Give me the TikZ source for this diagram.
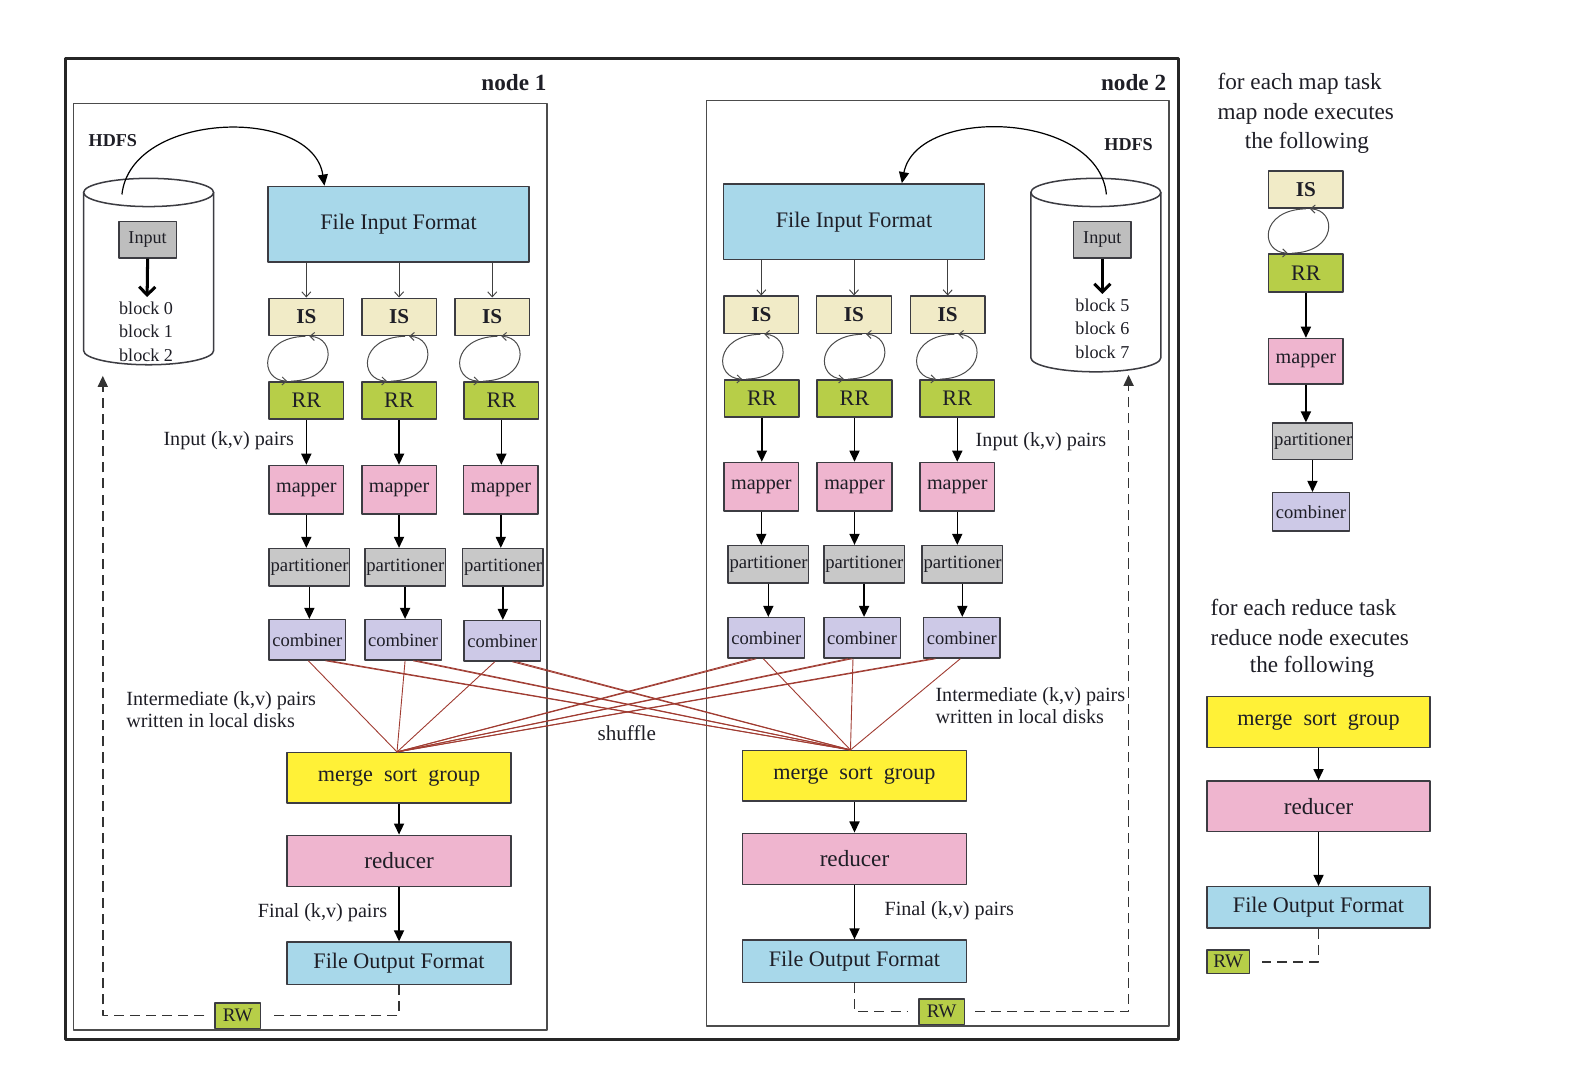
\documentclass[tikz,border=0pt]{standalone}
\usepackage{fontspec}
\setmainfont{Liberation Serif}
\usetikzlibrary{arrows.meta,calc}

\definecolor{txt}{RGB}{30,30,38}
\definecolor{boxline}{RGB}{60,60,66}
\definecolor{fifblue}{RGB}{168,216,234}
\definecolor{isfill}{RGB}{241,235,199}
\definecolor{rrfill}{RGB}{183,206,72}
\definecolor{mapfill}{RGB}{239,181,207}
\definecolor{parfill}{RGB}{200,200,200}
\definecolor{comfill}{RGB}{205,201,231}
\definecolor{mrgfill}{RGB}{255,241,55}
\definecolor{infill}{RGB}{190,190,190}
\definecolor{shufc}{RGB}{160,60,50}

\newcommand\fsz[1]{\fontsize{#1}{#1}\selectfont}

\begin{document}
\begin{tikzpicture}[x=0.5pt,y=-0.5pt,line join=round,
  every node/.style={text=txt},
  box/.style={draw=boxline,line width=0.75pt,inner sep=0pt},
  fifbox/.style={box,fill=fifblue,minimum width=129.5pt,minimum height=37.5pt,font=\fsz{11}},
  isbox/.style={box,fill=isfill,minimum width=37pt,minimum height=18.5pt,font=\bfseries\fsz{10.5}},
  rrbox/.style={box,fill=rrfill,minimum width=37pt,minimum height=18.5pt,font=\fsz{11}},
  mapbox/.style={box,fill=mapfill,minimum width=37pt,minimum height=24pt,font=\fsz{10}},
  partbox/.style={box,fill=parfill,minimum width=40pt,minimum height=18.5pt,font=\fsz{9.3}},
  combbox/.style={box,fill=comfill,minimum width=38pt,minimum height=20pt,font=\fsz{9.2}},
  mrgbox/.style={box,fill=mrgfill,minimum width=111pt,minimum height=25pt,font=\fsz{11}},
  redbox/.style={box,fill=mapfill,minimum width=111pt,minimum height=25.5pt,font=\fsz{11.5}},
  fofbox/.style={box,fill=fifblue,minimum width=111pt,minimum height=21pt,font=\fsz{11}},
  rwbox/.style={box,fill=rrfill,minimum width=22.5pt,minimum height=12.5pt,font=\fsz{9.5}},
  inbox/.style={box,fill=infill,minimum width=28.5pt,minimum height=18pt,font=\fsz{9}},
  lbl/.style={font=\fsz{10},inner sep=0pt},
  flow/.style={draw=black,line width=0.75pt,-{Triangle[length=5.5pt,width=5pt]}},
  feed/.style={draw=black!75,line width=0.45pt,-{Straight Barb[length=2.5pt,width=4.5pt]}},
  spin/.style={draw=black!70,line width=0.5pt,-{Straight Barb[length=2.2pt,width=4pt]}},
  shuf/.style={draw=shufc,line width=0.45pt},
  rwdash/.style={draw=black!80,line width=0.75pt,dash pattern=on 5pt off 3pt},
  fetch/.style={draw=black,line width=0.6pt,-{Triangle[length=5.5pt,width=5pt]}},
  split/.style={draw=black,line width=1.5pt,-{Straight Barb[length=4pt,width=8pt]}},
  cyl/.style={draw=boxline,line width=0.75pt,fill=white}
]
\useasboundingbox (0,0) rectangle (1568,1068);

% two-way cycle between an input split and its record reader
\newcommand\spinloop[3]{%
  \path (#1.south) ++(#3,0) coordinate (lt);
  \path (#2.north -| lt) coordinate (lb);
  \draw[spin] ($(lt)+(8,0)$) .. controls ($(lt)+(-38,1)$) and ($(lb)+(-38,-1)$) .. ($(lb)+(-10,0)$);
  \draw[spin] ($(lb)+(-6,0)$) .. controls ($(lb)+(39,-1)$) and ($(lt)+(39,1)$) .. ($(lt)+(12,0)$);
}

% cluster frame and the two machines
\draw[line width=1.5pt,draw=black!85] (65,58) rectangle (1170,1032);
\draw[draw=black!70,line width=0.7pt] (73,103) rectangle (543,1022);
\draw[draw=black!70,line width=0.7pt] (701,100) rectangle (1160,1018);
\node[font=\bfseries\fsz{11.5}] (n1) at (510,82) {node 1};
\node[font=\bfseries\fsz{11.5}] (n2) at (1125,82) {node 2};

% ---------------- node 1 ----------------
\node[font=\bfseries\fsz{9}] (hdfs1) at (112,140) {HDFS};
\draw[cyl] (83,191) -- (83,348) arc[start angle=180,end angle=0,x radius=64.5,y radius=14] -- (212,191);
\draw[cyl] (147.5,191) ellipse[x radius=64.5,y radius=14];
\coordinate (cyl1top) at (121,193);
\coordinate (cyl1base) at (102,373);
\node[inbox] (in1) at (146.5,238) {Input};
\node[align=center,font=\fontsize{9}{11.75}\selectfont,inner sep=0pt] (blk1) at (145,329) {block 0\\block 1\\block 2};
\draw[split] (in1.south) -- ($(blk1.north)+(1,-4)$);

\node[fifbox] (fif1) at (395.5,222.5) {File Input Format};
\draw[fetch] (cyl1top) .. controls (130,110) and (310,105) .. (fif1.north -| 322,0);

\node[isbox] (is11) at (304,314.5) {IS};
\node[isbox] (is12) at (396,314.5) {IS};
\node[isbox] (is13) at (488.5,314.5) {IS};
\node[rrbox] (rr11) at (304,397.5) {RR};
\node[rrbox] (rr12) at (396,397.5) {RR};
\node[rrbox] (rr13) at (497.5,397.5) {RR};
\node[mapbox] (map11) at (304,486) {mapper};
\node[mapbox] (map12) at (396,486) {mapper};
\node[mapbox] (map13) at (497,486) {mapper};
\node[partbox] (par11) at (307,563) {\makebox[38.5pt][l]{partitioner}};
\node[partbox] (par12) at (402,563) {\makebox[38.5pt][l]{partitioner}};
\node[partbox] (par13) at (499,563) {\makebox[38.5pt][l]{partitioner}};
\node[combbox] (com11) at (305,635) {combiner};
\node[combbox] (com12) at (400,635) {combiner};
\node[combbox] (com13) at (498.5,636) {combiner};

\foreach \i in {11,12,13}{
  \draw[feed] (is\i.north |- fif1.south) -- (is\i.north);
}
\spinloop{is11}{rr11}{-9}
\spinloop{is12}{rr12}{-2}
\spinloop{is13}{rr13}{-3}
\foreach \i in {11,12,13}{
  \draw[flow] (rr\i.south) -- (rr\i.south |- map\i.north);
  \draw[flow] (map\i.south) -- (map\i.south |- par\i.north);
  \draw[flow] (par\i.south) -- (par\i.south |- com\i.north);
}
\node[lbl] (kv1) at (227,437) {Input (k,v) pairs};

\node[mrgbox] (mrg1) at (396,772) {merge\ \ sort\ \ group};
\node[redbox] (red1) at (396,854.5) {reducer};
\node[fofbox] (fof1) at (396,956) {File Output Format};
\draw[flow] (mrg1) -- (red1);
\draw[flow] (red1) -- (fof1);
\node[lbl] (fin1) at (320,906) {Final (k,v) pairs};
\node[lbl,anchor=west,align=left,font=\fontsize{10}{11}\selectfont] (mid1) at (125,704) {Intermediate (k,v) pairs\\written in local disks};

% ---------------- node 2 ----------------
\node[font=\bfseries\fsz{9}] (hdfs2) at (1120,143) {HDFS};
\draw[cyl] (1023,191) -- (1023,355) arc[start angle=180,end angle=0,x radius=64.5,y radius=14] -- (1152,191);
\draw[cyl] (1087.5,191) ellipse[x radius=64.5,y radius=14];
\coordinate (cyl2top) at (1098,193);
\coordinate (cyl2base) at (1120,372);
\node[inbox] (in2) at (1094,238) {Input};
\node[align=center,font=\fontsize{9}{11.75}\selectfont,inner sep=0pt] (blk2) at (1094,326) {block 5\\block 6\\block 7};
\draw[split] (in2.south) -- ($(blk2.north)+(0,-4)$);

\node[fifbox] (fif2) at (847.5,220) {File Input Format};
\draw[fetch] (cyl2top) .. controls (1090,110) and (910,105) .. (fif2.north -| 895,0);

\node[isbox] (is21) at (755.5,312.5) {IS};
\node[isbox] (is22) at (847.5,312.5) {IS};
\node[isbox] (is23) at (940.5,312.5) {IS};
\node[rrbox] (rr21) at (756,395.5) {RR};
\node[rrbox] (rr22) at (848,395.5) {RR};
\node[rrbox] (rr23) at (950,395.5) {RR};
\node[mapbox] (map21) at (755.5,483) {mapper};
\node[mapbox] (map22) at (848,483) {mapper};
\node[mapbox] (map23) at (950,483) {mapper};
\node[partbox] (par21) at (762.5,560) {\makebox[38.5pt][l]{partitioner}};
\node[partbox] (par22) at (857.5,560) {\makebox[38.5pt][l]{partitioner}};
\node[partbox] (par23) at (955,560) {\makebox[38.5pt][l]{partitioner}};
\node[combbox] (com21) at (760.5,633) {combiner};
\node[combbox] (com22) at (855.5,633) {combiner};
\node[combbox] (com23) at (954.5,633) {combiner};

\foreach \i in {21,22,23}{
  \draw[feed] (is\i.north |- fif2.south) -- (is\i.north);
}
\spinloop{is21}{rr21}{-9}
\spinloop{is22}{rr22}{0}
\spinloop{is23}{rr23}{-1.5}
\foreach \i in {21,22,23}{
  \draw[flow] (rr\i.south) -- (rr\i.south |- map\i.north);
  \draw[flow] (map\i.south) -- (map\i.south |- par\i.north);
  \draw[flow] (par\i.south) -- (par\i.south |- com\i.north);
}
\node[lbl] (kv2) at (1033,438) {Input (k,v) pairs};

\node[mrgbox] (mrg2) at (848,770) {merge\ \ sort\ \ group};
\node[redbox] (red2) at (848,852.5) {reducer};
\node[fofbox] (fof2) at (848,954) {File Output Format};
\draw[flow] (mrg2) -- (red2);
\draw[flow] (red2) -- (fof2);
\node[lbl] (fin2) at (942,904) {Final (k,v) pairs};
\node[lbl,anchor=west,align=left,font=\fontsize{10}{11}\selectfont] (mid2) at (928,700) {Intermediate (k,v) pairs\\written in local disks};

% ---------------- shuffle ----------------
\coordinate (in1m) at ($(mrg1.north)+(-2,0)$);
\coordinate (in2m) at ($(mrg2.north)+(-4,0)$);
% local partitions
\draw[shuf] ($(com11.south)+(1,0)$) -- (in1m);
\draw[shuf] ($(com12.south)+(2,0)$) -- (in1m);
\draw[shuf] ($(com13.south)+(-7.5,0)$) -- (in1m);
\draw[shuf] ($(com21.south)+(-3,0)$) -- (in2m);
\draw[shuf] ($(com22.south)+(-9,0)$) -- (in2m);
\draw[shuf] ($(com23.south)+(-1.5,0)$) -- (in2m);
% remote partitions
\foreach \dx in {0,4}{
  \draw[shuf] ($(com11.south)+(18+\dx,0)$) -- (in2m);
  \draw[shuf] ($(com12.south)+(10+\dx,0)$) -- (in2m);
  \draw[shuf] ($(com13.south)+(10+\dx,0)$) -- (in2m);
  \draw[shuf] ($(com21.south)+(-14+\dx,0)$) -- (in1m);
  \draw[shuf] ($(com22.south)+(-14+\dx,0)$) -- (in1m);
  \draw[shuf] ($(com23.south)+(-30+\dx,0)$) -- (in1m);
}
\node[font=\fsz{10.5},inner sep=0pt] (shuffle) at (622,728) {shuffle};

% ---------------- write back ----------------
\node[rwbox] (rw1) at (236,1008) {RW};
\node[rwbox] (rw2) at (934.5,1004) {RW};
\draw[rwdash,shorten >=5pt] (fof1.south) |- (rw1.east);
\draw[rwdash,shorten <=5pt,-{Triangle[length=5.5pt,width=5pt]}] (rw1.west) -| (cyl1base);
\draw[rwdash,shorten >=5pt] (fof2.south) |- (rw2.west);
\draw[rwdash,shorten <=5pt,-{Triangle[length=5.5pt,width=5pt]}] (rw2.east) -| (cyl2base);

% ---------------- map task key ----------------
\node[anchor=west,font=\fsz{11.5},inner sep=0pt] (mk1) at (1208,83) {for each map task};
\node[anchor=west,font=\fsz{11.5},inner sep=0pt] (mk2) at (1208,113) {map node executes};
\node[font=\fsz{11.5},inner sep=0pt] (mk3) at (1297,142) {the following};
\node[isbox] (lis) at (1296,188) {IS};
\node[rrbox,minimum height=19pt] (lrr) at (1296,271) {RR};
\node[mapbox,minimum height=22.5pt] (lmap) at (1296,358.5) {mapper};
\node[partbox,minimum width=39.5pt,minimum height=18pt] (lpar) at (1302.5,438) {\makebox[38pt][l]{partitioner}};
\node[combbox,minimum height=19pt] (lcom) at (1301,508) {combiner};
\spinloop{lis}{lrr}{-8}
\draw[flow] (lrr.south) -- (lrr.south |- lmap.north);
\draw[flow] (lmap.south) -- (lmap.south |- lpar.north);
\draw[flow] (lpar.south) -- (lpar.south |- lcom.north);

% ---------------- reduce task key ----------------
\node[anchor=west,font=\fsz{11.5},inner sep=0pt] (rk1) at (1201,603) {for each reduce task};
\node[anchor=west,font=\fsz{11.5},inner sep=0pt] (rk2) at (1201,633) {reduce node executes};
\node[font=\fsz{11.5},inner sep=0pt] (rk3) at (1302,662) {the following};
\node[mrgbox,minimum width=110.5pt,minimum height=25.5pt] (lmrg) at (1308.5,716.5) {merge\ \ sort\ \ group};
\node[redbox,minimum width=110.5pt,minimum height=25pt] (lred) at (1308.5,800) {reducer};
\node[fofbox,minimum width=110.5pt,minimum height=20.5pt] (lfof) at (1308.5,900.5) {File Output Format};
\node[rwbox,minimum width=21pt,minimum height=11.5pt] (lrw) at (1219,954.5) {RW};
\draw[flow] (lmrg) -- (lred);
\draw[flow] (lred) -- (lfof);
\draw[rwdash,shorten >=6pt] (lfof.south) |- (lrw.east);
\end{tikzpicture}
\end{document}
